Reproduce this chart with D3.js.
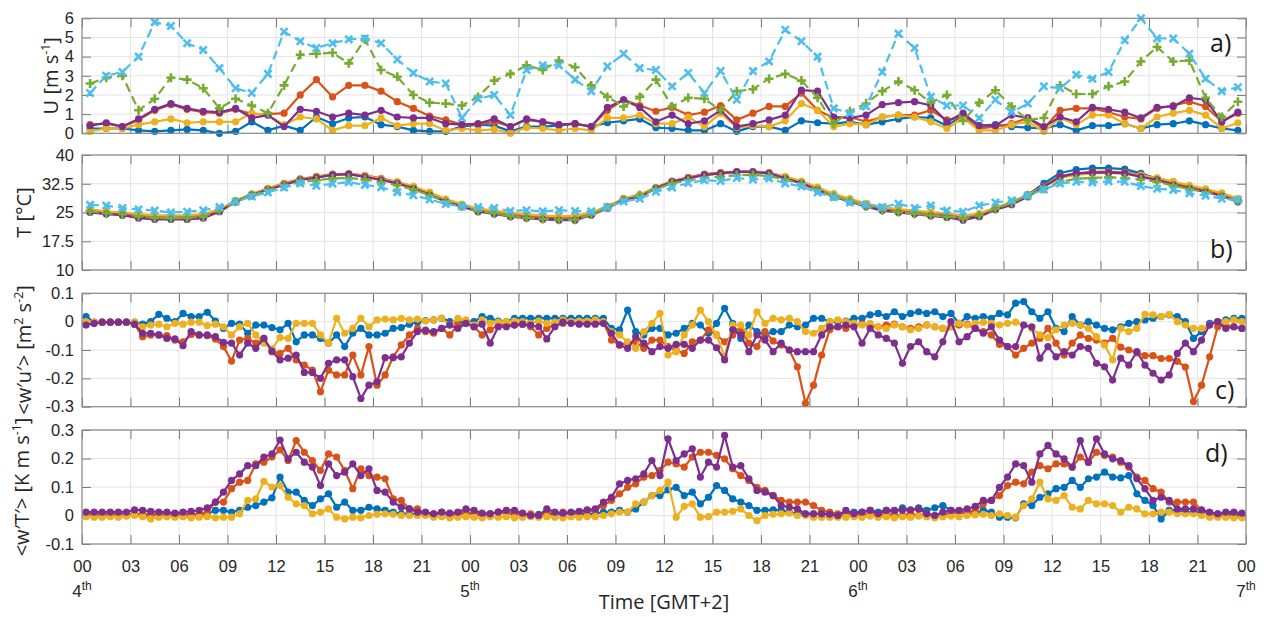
<!DOCTYPE html>
<html>
<head>
<meta charset="utf-8">
<script src="https://cdn.jsdelivr.net/npm/d3@7/dist/d3.min.js"></script>
<style>
  body { margin: 0; background: #ffffff; }
  svg { display: block; }
</style>
</head>
<body>
<svg id="chart" width="1267" height="617"></svg>
<script>
// ---------- time axis ----------
const hourTickValues = [0,3,6,9,12,15,18,21,24,27,30,33,36,39,42,45,48,51,54,57,60,63,66,69,72];
const hourTickLabels = ["00","03","06","09","12","15","18","21","00","03","06","09","12","15","18","21","00","03","06","09","12","15","18","21","00"];
const dayTickValues = [0,24,48,72];
const dayLabels = ["4","5","6","7"];

// ---------- a) wind speed U, hourly means ----------
const uBlue = [0.25,0.25,0.25,0.15,0.1,0.15,0.2,0.15,0.0,0.1,0.6,0.15,0.4,0.15,0.85,0.5,0.8,0.85,0.45,0.35,0.15,
  0.1,0.1,0.35,0.45,0.4,0.1,0.35,0.35,0.4,0.5,0.35,0.55,0.65,0.75,0.3,0.25,0.15,0.15,0.5,0.1,0.35,0.35,0.15,0.65,0.55,0.5,
  0.6,0.45,0.6,0.75,0.85,0.8,0.4,0.95,0.4,0.45,0.35,0.3,0.25,0.45,0.15,0.4,0.4,0.5,0.25,0.45,0.5,0.65,0.45,0.25,0.15];
const uOrange = [0.45,0.5,0.35,0.7,1.2,1.5,1.25,1.1,1.05,1.25,1.0,1.0,1.05,2.0,2.8,1.9,2.5,2.5,2.2,1.65,1.3,
  0.9,0.7,0.45,0.45,0.6,0.35,0.7,0.6,0.45,0.5,0.35,1.2,1.75,1.45,1.15,1.35,0.95,1.1,1.45,0.7,1.05,1.4,1.4,2.1,1.2,0.8,
  0.85,0.6,0.85,0.95,0.95,1.2,0.7,0.85,0.25,0.35,0.5,0.8,0.25,1.2,1.3,1.3,1.1,0.85,0.75,1.3,1.45,1.65,1.4,0.6,1.05];
const uYellow = [0.1,0.25,0.25,0.45,0.6,0.75,0.55,0.6,0.6,0.6,1.05,0.95,0.45,0.85,0.75,0.15,0.4,0.4,0.8,0.4,0.5,
  0.5,0.15,0.25,0.15,0.2,0.0,0.3,0.25,0.15,0.25,0.15,0.8,0.8,0.95,0.5,0.5,0.85,0.35,1.05,0.3,0.4,0.35,0.65,1.55,1.2,0.35,
  0.5,0.45,0.85,0.95,0.85,0.6,0.25,0.8,0.15,0.15,0.45,0.6,0.1,0.8,0.45,0.95,0.95,0.5,0.25,0.85,1.05,1.2,0.95,0.25,0.55];
const uPurple = [0.4,0.55,0.35,0.75,1.25,1.55,1.3,1.15,1.1,1.3,0.8,0.95,0.35,1.25,1.15,0.85,1.05,0.95,1.2,0.85,0.8,
  0.8,0.5,0.45,0.5,0.75,0.35,0.75,0.6,0.45,0.5,0.35,1.35,1.75,1.35,0.6,0.95,0.5,0.65,1.2,0.35,0.5,0.7,0.95,2.25,2.2,0.85,
  0.8,0.95,1.5,1.6,1.65,1.45,0.6,1.05,0.4,0.4,0.95,0.8,0.35,0.85,0.6,1.35,1.25,1.1,0.8,1.35,1.4,1.85,1.75,0.6,1.1];
const uGreen = [2.6,2.9,3.0,1.2,1.8,2.9,2.8,2.35,1.3,1.8,1.45,1.05,2.5,4.1,4.15,4.2,3.65,4.9,3.3,2.95,2.0,
  1.6,1.55,1.45,1.9,2.75,3.1,3.55,3.3,3.8,3.45,2.5,1.9,1.4,1.9,2.8,1.4,1.85,1.8,1.2,2.2,2.3,2.85,3.1,2.75,1.85,0.5,
  1.15,1.55,2.2,2.7,2.25,1.6,2.0,0.65,1.6,2.25,1.4,0.7,0.8,2.5,2.05,2.05,2.45,2.7,3.75,4.5,3.75,3.8,1.85,0.85,1.65];
const uLightBlue = [2.1,3.0,3.2,4.0,5.8,5.6,4.7,4.35,3.4,2.35,2.1,3.1,5.3,4.8,4.45,4.7,4.9,4.95,4.7,3.85,3.15,
  2.7,2.6,0.8,1.8,2.0,0.95,3.3,3.55,3.55,2.8,2.2,3.5,4.15,3.4,3.3,2.45,3.15,2.1,3.25,1.75,3.25,3.75,5.4,4.8,4.0,1.3,
  1.05,1.4,3.2,5.2,4.45,1.9,1.45,1.45,0.8,1.75,1.1,1.55,2.45,2.35,3.05,2.85,3.2,4.85,6.0,4.95,4.95,4.15,2.85,2.2,2.4];

// ---------- b) air temperature T, hourly means ----------
const tBlue = [25.2,24.8,24.5,23.8,23.5,23.4,23.4,23.7,25.4,27.9,29.7,31.1,32.4,33.6,34.2,34.8,35.0,34.4,33.6,32.7,31.4,29.8,28.0,26.7,
  25.4,24.8,24.1,23.7,23.4,23.2,23.2,24.5,26.3,28.4,29.3,31.4,33.1,34.0,34.8,35.2,35.6,35.6,35.2,34.0,32.8,31.1,29.3,28.0,
  26.7,25.7,25.2,24.8,24.3,23.9,23.3,24.1,25.9,27.4,29.6,32.6,35.3,36.2,36.6,36.6,36.3,35.2,33.8,32.4,31.4,30.5,29.4,27.9];
const tOrange = [25.5,25.0,24.7,24.2,24.0,23.8,23.9,24.2,25.6,28.0,29.8,31.3,32.6,33.8,34.4,35.0,35.1,34.7,33.9,33.0,31.7,30.1,28.3,27.0,
  25.8,25.2,24.6,24.2,23.9,23.7,23.8,24.9,26.5,28.6,29.6,31.5,33.2,34.2,35.0,35.4,35.7,35.7,35.4,34.3,33.0,31.4,29.6,28.3,
  27.1,26.1,25.6,25.2,24.8,24.5,23.9,24.5,26.1,27.6,29.6,31.9,34.5,35.2,35.6,35.7,35.5,34.8,34.0,32.9,31.8,30.9,29.8,28.4];
const tYellow = [25.8,25.3,25.0,24.6,24.3,24.2,24.3,24.6,25.8,28.1,29.8,31.3,32.5,33.7,34.3,34.8,35.0,34.6,33.8,33.0,31.8,30.3,28.5,27.2,
  26.0,25.5,24.9,24.5,24.2,24.0,24.1,25.0,26.6,28.6,29.7,31.4,33.0,34.0,34.8,35.2,35.5,35.6,35.3,34.4,33.2,31.6,29.9,28.6,
  27.4,26.4,25.9,25.5,25.1,24.8,24.2,24.7,26.3,27.8,29.6,31.7,34.0,34.8,35.2,35.3,35.2,34.7,34.0,33.1,32.1,31.2,30.1,28.7];
const tPurple = [25.0,24.6,24.3,23.5,23.2,23.2,23.2,23.5,25.2,27.8,29.6,31.0,32.2,33.5,34.1,34.8,35.0,34.3,33.5,32.6,31.3,29.6,27.8,26.5,
  25.2,24.6,23.9,23.5,23.2,23.0,23.0,24.3,26.1,28.3,29.1,31.3,33.0,33.9,34.8,35.2,35.6,35.6,35.2,33.9,32.6,30.9,29.1,27.8,
  26.5,25.5,25.0,24.6,24.1,23.7,23.0,23.9,25.7,27.0,29.1,31.7,34.3,35.2,35.4,35.4,35.2,34.3,33.5,32.2,31.3,30.4,29.3,27.8];
const tGreen = [25.3,24.8,24.6,24.0,23.6,23.5,23.6,23.9,25.5,27.8,29.5,30.8,31.9,33.0,33.4,33.9,34.0,33.6,32.9,32.1,31.0,29.5,27.9,26.6,
  25.4,24.8,24.1,23.6,23.3,23.1,23.1,24.5,26.3,28.4,29.5,31.1,32.6,33.4,34.0,34.4,34.7,34.8,34.5,33.6,32.4,30.9,29.3,28.0,
  26.6,25.6,25.1,24.7,24.3,23.9,23.4,24.3,26.0,27.5,29.5,31.2,33.0,33.8,34.0,34.2,34.0,33.6,33.0,32.0,31.1,30.3,29.3,27.9];
const tLightBlue = [27.0,26.8,26.2,25.8,25.5,25.0,25.2,25.6,26.4,27.8,29.2,30.2,31.5,32.6,32.0,32.5,32.9,32.2,31.6,30.3,29.5,28.4,27.2,26.6,
  26.4,26.2,25.4,25.6,25.3,25.6,25.4,25.3,26.4,27.9,28.6,30.4,31.5,32.7,33.4,33.2,34.0,33.6,33.9,32.6,31.8,30.2,29.0,27.6,
  27.0,26.4,27.3,26.2,26.8,25.5,25.2,26.8,27.6,28.2,29.4,31.0,32.6,33.0,32.8,33.1,33.0,31.9,31.2,30.9,30.0,29.4,28.6,28.3];

// ---------- c) momentum flux <w'u'>, 30-min ----------
const wuBlue = [0.018,-0.002,-0.002,-0.002,-0.002,-0.002,-0.002,
  -0.009,0.0,0.026,0.012,0.0,0.029,0.018,0.018,0.033,0.002,-0.024,-0.006,-0.009,-0.041,-0.012,-0.012,-0.021,-0.029,-0.006,-0.071,-0.047,-0.047,-0.059,-0.076,-0.047,-0.088,-0.041,-0.024,-0.047,-0.047,-0.041,-0.024,-0.021,-0.009,-0.002,0.004,
  0.006,0.012,0.0,-0.002,0.0,0.0,0.018,0.012,0.002,0.0,0.012,0.012,0.012,0.012,0.012,0.012,0.012,0.012,0.012,0.012,0.012,0.012,
  -0.024,-0.029,0.041,-0.035,-0.047,-0.024,-0.024,-0.047,-0.041,-0.024,-0.006,-0.012,-0.041,-0.006,0.047,-0.006,-0.059,-0.012,-0.035,-0.047,-0.035,-0.035,-0.012,-0.018,-0.012,0.012,0.012,0.0,0.0,0.002,
  0.012,0.012,0.024,0.029,0.018,0.035,0.018,0.029,0.035,0.029,0.035,0.018,0.029,-0.006,0.018,0.012,0.018,0.012,0.029,0.024,0.065,0.071,0.035,0.012,0.035,-0.024,-0.035,0.018,-0.012,0.0,-0.012,-0.024,-0.029,-0.018,-0.006,0.0,0.006,0.012,0.018,0.024,0.018,0.0,-0.059,-0.035,-0.006,0.0,0.006,0.012,0.012];
const wuOrange = [-0.006,-0.006,-0.002,-0.002,-0.002,-0.002,-0.009,
  -0.053,-0.047,-0.047,-0.049,-0.065,-0.071,-0.045,-0.047,-0.049,-0.061,-0.088,-0.139,-0.065,-0.059,-0.076,-0.059,-0.106,-0.112,-0.094,-0.135,-0.153,-0.171,-0.247,-0.171,-0.188,-0.188,-0.118,-0.188,-0.088,-0.224,-0.188,-0.124,-0.082,-0.047,-0.024,-0.035,
  -0.041,-0.024,-0.047,-0.012,-0.006,-0.018,-0.047,-0.029,-0.012,-0.009,-0.012,-0.009,-0.018,-0.047,-0.024,-0.009,-0.006,-0.002,-0.006,-0.002,-0.006,-0.002,
  -0.065,-0.082,-0.076,-0.071,-0.094,-0.065,-0.065,-0.088,-0.1,-0.112,-0.071,-0.065,-0.029,-0.047,-0.071,-0.047,-0.029,-0.076,-0.088,-0.035,-0.068,-0.082,-0.1,-0.159,-0.288,-0.224,-0.118,-0.029,-0.018,-0.024,
  -0.012,-0.009,-0.014,-0.018,-0.012,-0.009,-0.018,-0.024,-0.018,-0.012,-0.018,-0.024,-0.018,-0.012,-0.009,-0.024,-0.035,-0.047,-0.08,-0.088,-0.118,-0.094,-0.076,-0.059,-0.024,-0.076,-0.118,-0.076,-0.047,-0.059,-0.065,-0.076,-0.059,-0.09,-0.1,-0.11,-0.12,-0.12,-0.13,-0.13,-0.14,-0.16,-0.282,-0.224,-0.124,-0.018,-0.012,-0.018,-0.024];
const wuYellow = [0.0,-0.002,-0.002,-0.002,-0.002,-0.002,-0.002,
  -0.018,-0.012,-0.009,-0.018,-0.006,-0.009,-0.002,-0.002,-0.014,-0.009,-0.018,-0.047,-0.018,-0.006,
  -0.047,-0.076,-0.096,-0.056,-0.059,-0.006,-0.006,-0.006,-0.047,-0.076,0.012,-0.041,-0.024,0.012,-0.018,0.006,0.009,0.006,0.012,0.006,0.009,0.002,
  0.006,0.012,-0.012,0.012,0.006,-0.012,0.006,-0.006,-0.002,0.0,0.002,0.0,-0.006,0.002,-0.006,-0.002,0.006,0.0,0.002,0.002,0.006,0.0,
  -0.035,-0.047,-0.071,-0.094,-0.035,-0.006,0.029,-0.118,-0.106,-0.047,-0.012,0.041,0.0,-0.047,-0.124,-0.012,-0.012,-0.047,0.035,-0.006,0.012,0.006,0.012,0.0,-0.035,-0.041,-0.024,0.0,0.006,0.0,
  -0.006,-0.012,-0.006,-0.018,-0.024,-0.012,-0.018,-0.029,-0.024,-0.012,-0.018,-0.024,-0.018,-0.006,-0.012,-0.006,-0.002,-0.006,-0.012,-0.006,-0.002,-0.012,-0.024,-0.047,-0.056,-0.029,-0.012,-0.006,-0.012,-0.024,-0.053,-0.082,-0.135,-0.024,-0.035,-0.024,0.026,0.024,0.018,0.026,0.0,-0.012,-0.024,-0.024,-0.012,0.0,0.0,0.006,0.0];
const wuPurple = [-0.012,-0.006,-0.002,-0.002,-0.002,-0.002,-0.009,
  -0.041,-0.041,-0.047,-0.059,-0.061,-0.085,-0.035,-0.047,-0.047,-0.053,-0.073,-0.076,-0.118,-0.076,-0.094,-0.059,-0.104,-0.135,-0.129,-0.118,-0.179,-0.179,-0.2,-0.147,-0.135,-0.135,-0.194,-0.271,-0.224,-0.212,-0.127,-0.127,-0.124,-0.076,-0.035,-0.03,
  -0.035,-0.024,-0.012,-0.024,-0.006,-0.018,-0.009,-0.076,-0.018,-0.018,-0.012,-0.009,-0.012,-0.018,-0.061,-0.018,-0.002,-0.006,-0.009,-0.009,-0.009,-0.006,
  -0.041,-0.082,-0.094,-0.053,-0.076,-0.106,-0.088,-0.094,-0.08,-0.08,-0.094,-0.065,-0.065,-0.092,-0.135,-0.029,-0.047,-0.106,-0.047,-0.065,-0.106,-0.076,-0.1,-0.106,-0.106,-0.106,-0.047,-0.018,-0.018,-0.012,
  -0.018,-0.076,-0.024,-0.047,-0.059,-0.076,-0.147,-0.088,-0.071,-0.106,-0.124,-0.071,0.0,-0.071,-0.053,-0.024,-0.041,-0.018,-0.065,-0.088,-0.088,-0.012,-0.018,-0.129,-0.088,-0.124,-0.106,-0.118,-0.088,-0.094,-0.147,-0.159,-0.206,-0.129,-0.153,-0.106,-0.153,-0.182,-0.206,-0.188,-0.112,-0.076,-0.106,-0.065,-0.012,0.0,-0.024,-0.018,-0.024];

// ---------- d) sensible heat flux <w'T'>, 30-min ----------
const wtBlue = [0.0,0.002,0.0,0.004,0.002,0.0,0.004,0.002,0.0,0.004,0.0,0.002,0.0,0.004,0.002,0.006,
  0.018,0.018,0.012,0.018,0.029,0.035,0.047,0.062,0.135,0.082,0.082,0.053,0.035,0.058,0.076,0.029,0.047,0.018,0.018,0.029,0.023,0.018,0.012,0.006,0.006,0.004,0.004,
  0.004,0.006,0.002,0.006,0.008,0.006,0.004,0.006,0.012,0.008,0.006,0.004,0.002,0.004,0.006,0.004,0.006,0.008,0.006,0.004,0.006,
  0.012,0.012,0.018,0.012,0.023,0.047,0.07,0.07,0.09,0.099,0.07,0.082,0.041,0.064,0.105,0.088,0.058,0.047,0.035,0.018,0.018,0.02,0.018,0.012,0.006,0.006,0.006,0.006,0.004,0.0,0.0,
  0.012,0.012,0.018,0.012,0.018,0.012,0.027,0.018,0.027,0.018,0.027,0.035,0.018,0.012,0.006,0.006,0.018,0.012,-0.006,-0.006,-0.008,0.041,0.035,0.064,0.076,0.094,0.099,0.123,0.099,0.129,0.135,0.152,0.135,0.132,0.14,0.076,0.053,0.035,-0.012,0.018,0.018,0.012,0.012,0.012,0.008,0.006,0.006,0.004,0.0];
const wtOrange = [0.004,0.004,0.004,0.004,0.004,0.004,0.004,0.004,0.004,0.004,0.004,0.004,0.004,0.004,0.004,
  0.012,0.047,0.047,0.094,0.117,0.123,0.181,0.187,0.205,0.23,0.193,0.263,0.222,0.193,0.158,0.216,0.205,0.158,0.094,0.164,0.14,0.135,0.129,0.058,0.053,0.023,0.023,0.006,
  0.006,0.012,0.0,0.006,0.012,0.006,0.0,0.006,0.012,0.006,0.012,0.0,0.006,0.0,0.012,0.006,0.012,0.006,0.012,0.012,0.018,
  0.035,0.053,0.076,0.099,0.111,0.135,0.14,0.158,0.187,0.181,0.17,0.205,0.222,0.222,0.211,0.199,0.164,0.14,0.123,0.099,0.088,0.07,0.053,0.047,0.047,0.047,0.035,0.018,0.012,0.006,0.006,
  0.006,0.0,0.006,0.0,0.006,0.0,0.0,0.006,0.0,0.006,0.0,0.006,0.006,0.012,0.012,0.018,0.041,0.053,0.07,0.105,0.117,0.111,0.152,0.175,0.164,0.181,0.181,0.17,0.205,0.187,0.222,0.211,0.205,0.187,0.17,0.135,0.123,0.094,0.082,0.047,0.047,0.047,0.047,0.018,0.006,0.0,0.0,-0.004,-0.006];
const wtYellow = [-0.004,-0.006,-0.006,-0.004,-0.006,-0.002,0.0,-0.004,-0.012,-0.006,-0.004,-0.006,-0.004,-0.008,-0.006,-0.004,-0.008,-0.006,-0.006,
  0.006,0.053,0.058,0.12,0.1,0.105,0.064,0.041,0.035,0.006,0.012,0.023,-0.006,-0.012,-0.006,-0.008,0.0,0.004,0.006,0.004,0.0,0.0,0.0,0.0,
  -0.006,-0.004,-0.008,-0.006,-0.004,-0.006,-0.008,-0.004,-0.006,-0.004,-0.008,-0.006,-0.004,-0.006,-0.004,-0.006,-0.008,-0.004,-0.006,-0.004,-0.004,
  0.0,0.006,0.012,0.012,0.041,0.047,0.07,0.088,0.117,-0.006,0.032,0.041,-0.006,-0.004,0.012,0.012,0.015,0.023,0.0,-0.018,0.0,0.004,0.006,0.008,0.0,0.0,-0.006,-0.006,-0.006,-0.006,-0.006,
  -0.004,-0.006,-0.002,-0.006,-0.004,-0.008,-0.004,-0.006,-0.002,-0.004,-0.008,-0.004,-0.002,-0.004,0.0,0.002,0.004,0.0,0.006,0.0,-0.006,0.035,0.058,0.117,0.058,0.053,0.07,0.029,0.023,0.053,0.041,0.041,0.035,0.012,0.029,0.023,0.006,0.006,0.012,0.012,0.006,0.006,0.006,0.0,-0.006,-0.006,-0.006,-0.008,-0.008];
const wtPurple = [0.012,0.012,0.012,0.012,0.012,0.012,0.02,0.018,0.015,0.012,0.012,0.008,0.012,0.015,0.018,0.027,
  0.047,0.082,0.123,0.146,0.175,0.175,0.205,0.216,0.265,0.199,0.222,0.187,0.17,0.105,0.181,0.14,0.152,0.181,0.14,0.164,0.088,0.082,0.047,0.029,0.023,0.012,0.012,
  0.006,0.012,0.008,0.012,0.023,0.018,0.008,0.006,0.012,0.018,0.018,0.008,0.0,0.0,0.023,0.012,0.008,0.012,0.015,0.02,0.023,
  0.047,0.064,0.111,0.123,0.129,0.146,0.193,0.14,0.269,0.193,0.216,0.234,0.135,0.187,0.17,0.281,0.17,0.175,0.129,0.088,0.082,0.07,0.035,0.029,0.023,0.006,0.006,0.006,0.004,0.0,0.018,
  0.006,0.012,0.018,0.006,0.018,0.018,0.018,0.02,0.023,0.006,0.0,0.012,0.018,0.018,0.023,0.032,0.053,0.053,0.099,0.135,0.181,0.175,0.117,0.216,0.246,0.216,0.199,0.17,0.263,0.187,0.269,0.216,0.199,0.193,0.175,0.129,0.094,0.053,0.064,0.053,0.023,0.023,0.023,0.02,0.012,0.006,0.012,0.012,0.008];

// ---------- y axes ----------
const uTicks = [0,1,2,3,4,5,6];
const uTickLabels = ["0","1","2","3","4","5","6"];
const tTicks = [10,17.5,25,32.5,40];
const tTickLabels = ["10","17.5","25","32.5","40"];
const wuTicks = [-0.3,-0.2,-0.1,0,0.1];
const wuTickLabels = ["-0.3","-0.2","-0.1","0","0.1"];
const wtTicks = [-0.1,0,0.1,0.2,0.3];
const wtTickLabels = ["-0.1","0","0.1","0.2","0.3"];

// ---------- styling ----------
const COLORS = {
  blue: "#0072BD", orange: "#D95319", yellow: "#EDB120",
  purple: "#7E2F8E", green: "#77AC30", lightblue: "#4DBEEE"
};
const TICK_FONT = "'Liberation Sans', Arial, Helvetica, sans-serif";
const LABEL_FONT = "'Open Sans', 'Noto Sans', sans-serif";

const svg = d3.select("#chart");
const x = d3.scaleLinear().domain([0, 72]).range([82, 1246]);

function hourly(arr) { return arr.map((v, i) => ({ t: i + 0.5, v })); }
function halfHourly(arr) { return arr.map((v, i) => ({ t: 0.25 + 0.5 * i, v })); }

const panels = [
  {
    top: 18.3, bottom: 133.3, domain: [0, 6], ticks: uTicks, tickLabels: uTickLabels,
    label: [["U [m s", 0], ["-1", 1], ["]", 0]], labelX: 58, letter: "a)", letterX: 1210, letterY: 52,
    series: [
      { data: hourly(uBlue), color: COLORS.blue, marker: "circle" },
      { data: hourly(uOrange), color: COLORS.orange, marker: "circle" },
      { data: hourly(uYellow), color: COLORS.yellow, marker: "circle" },
      { data: hourly(uPurple), color: COLORS.purple, marker: "circle" },
      { data: hourly(uGreen), color: COLORS.green, marker: "plus", dashed: true },
      { data: hourly(uLightBlue), color: COLORS.lightblue, marker: "cross", dashed: true }
    ]
  },
  {
    top: 155, bottom: 270, domain: [10, 40], ticks: tTicks, tickLabels: tTickLabels,
    label: [["T [°C]", 0]], labelX: 31, letter: "b)", letterX: 1210, letterY: 258,
    series: [
      { data: hourly(tBlue), color: COLORS.blue, marker: "circle" },
      { data: hourly(tOrange), color: COLORS.orange, marker: "circle" },
      { data: hourly(tYellow), color: COLORS.yellow, marker: "circle" },
      { data: hourly(tPurple), color: COLORS.purple, marker: "circle" },
      { data: hourly(tGreen), color: COLORS.green, marker: "plus", dashed: true },
      { data: hourly(tLightBlue), color: COLORS.lightblue, marker: "cross", dashed: true }
    ]
  },
  {
    top: 293.3, bottom: 406.7, domain: [-0.3, 0.1], ticks: wuTicks, tickLabels: wuTickLabels,
    label: [["<w′u′> [m", 0], ["2", 1], [" s", 0], ["-2", 1], ["]", 0]],
    labelX: 31, letter: "c)", letterX: 1215, letterY: 399,
    series: [
      { data: halfHourly(wuBlue), color: COLORS.blue, marker: "circle" },
      { data: halfHourly(wuOrange), color: COLORS.orange, marker: "circle" },
      { data: halfHourly(wuYellow), color: COLORS.yellow, marker: "circle" },
      { data: halfHourly(wuPurple), color: COLORS.purple, marker: "circle" }
    ]
  },
  {
    top: 430, bottom: 544, domain: [-0.1, 0.3], ticks: wtTicks, tickLabels: wtTickLabels,
    label: [["<w′T′> [K m s", 0], ["-1", 1], ["]", 0]],
    labelX: 29, letter: "d)", letterX: 1205, letterY: 462, xLabels: true,
    series: [
      { data: halfHourly(wtBlue), color: COLORS.blue, marker: "circle" },
      { data: halfHourly(wtOrange), color: COLORS.orange, marker: "circle" },
      { data: halfHourly(wtYellow), color: COLORS.yellow, marker: "circle" },
      { data: halfHourly(wtPurple), color: COLORS.purple, marker: "circle" }
    ]
  }
];

// writes a label made of normal and superscript runs
function richText(textSel, parts, size) {
  let raised = false;
  parts.forEach(([str, sup]) => {
    const ts = textSel.append("tspan").text(str)
      .attr("font-size", sup ? size * 0.62 : size);
    if (sup && !raised) { ts.attr("dy", -size * 0.42); raised = true; }
    else if (!sup && raised) { ts.attr("dy", size * 0.42); raised = false; }
  });
}

const TICK_LEN = 9;

panels.forEach(p => {
  const y = d3.scaleLinear().domain(p.domain).range([p.bottom, p.top]);
  const g = svg.append("g");

  // grid
  g.append("g").selectAll("line").data(hourTickValues).join("line")
    .attr("x1", d => x(d)).attr("x2", d => x(d))
    .attr("y1", p.top).attr("y2", p.bottom)
    .attr("stroke", "#e4e4e4").attr("stroke-width", 1);
  g.append("g").selectAll("line").data(p.ticks).join("line")
    .attr("x1", x(0)).attr("x2", x(72))
    .attr("y1", d => y(d)).attr("y2", d => y(d))
    .attr("stroke", "#e4e4e4").attr("stroke-width", 1);

  // inward tick marks on all four sides
  const axisStyle = sel => {
    sel.select(".domain").remove();
    sel.selectAll(".tick line").attr("stroke", "#7a7a7a").attr("stroke-width", 1);
    sel.selectAll(".tick text").attr("fill", "#262626")
      .attr("font-family", TICK_FONT).attr("font-size", 16.5);
  };
  g.append("g").attr("transform", `translate(${x(0)},0)`)
    .call(d3.axisLeft(y).tickValues(p.ticks).tickFormat((d, i) => p.tickLabels[i])
      .tickSizeInner(-TICK_LEN).tickSizeOuter(0).tickPadding(8))
    .call(axisStyle);
  g.append("g").attr("transform", `translate(${x(72)},0)`)
    .call(d3.axisRight(y).tickValues(p.ticks).tickFormat("")
      .tickSizeInner(-TICK_LEN).tickSizeOuter(0))
    .call(axisStyle);
  g.append("g").attr("transform", `translate(0,${p.top})`)
    .call(d3.axisTop(x).tickValues(hourTickValues).tickFormat("")
      .tickSizeInner(-TICK_LEN).tickSizeOuter(0))
    .call(axisStyle);
  g.append("g").attr("transform", `translate(0,${p.bottom})`)
    .call(d3.axisBottom(x).tickValues(hourTickValues)
      .tickFormat((d, i) => p.xLabels ? hourTickLabels[i] : "")
      .tickSizeInner(-TICK_LEN).tickSizeOuter(0).tickPadding(16))
    .call(axisStyle);

  // series
  const line = d3.line().x(d => x(d.t)).y(d => y(d.v));
  p.series.forEach(s => {
    const sg = g.append("g");
    sg.append("path").datum(s.data)
      .attr("d", line).attr("fill", "none")
      .attr("stroke", s.color).attr("stroke-width", 2.2)
      .attr("stroke-linejoin", "round")
      .attr("stroke-dasharray", s.dashed ? "9,5" : null);
    if (s.marker === "circle") {
      sg.selectAll("circle").data(s.data).join("circle")
        .attr("cx", d => x(d.t)).attr("cy", d => y(d.v)).attr("r", 3.6)
        .attr("fill", s.color);
    } else {
      const shape = s.marker === "plus"
        ? "M-4.5,0H4.5M0,-4.5V4.5"
        : "M-3.6,-3.6L3.6,3.6M-3.6,3.6L3.6,-3.6";
      sg.selectAll("path.mk").data(s.data).join("path").attr("class", "mk")
        .attr("transform", d => `translate(${x(d.t)},${y(d.v)})`)
        .attr("d", shape).attr("fill", "none")
        .attr("stroke", s.color).attr("stroke-width", 2.6);
    }
  });

  // frame
  g.append("rect")
    .attr("x", x(0)).attr("y", p.top)
    .attr("width", x(72) - x(0)).attr("height", p.bottom - p.top)
    .attr("fill", "none").attr("stroke", "#8a8a8a").attr("stroke-width", 1.2);

  // y label
  const yl = g.append("text")
    .attr("transform", `translate(${p.labelX},${(p.top + p.bottom) / 2}) rotate(-90)`)
    .attr("text-anchor", "middle").attr("fill", "#262626")
    .attr("font-family", LABEL_FONT);
  richText(yl, p.label, 20);

  // panel letter
  g.append("text").attr("x", p.letterX).attr("y", p.letterY)
    .attr("font-family", LABEL_FONT).attr("font-size", 25).attr("fill", "#1a1a1a")
    .text(p.letter);
});

// day labels under the midnight ticks
const dayG = svg.append("g").attr("font-family", TICK_FONT).attr("fill", "#262626");
dayTickValues.forEach((h, i) => {
  const t = dayG.append("text").attr("x", x(h)).attr("y", 597).attr("text-anchor", "middle");
  t.append("tspan").attr("font-size", 17).text(dayLabels[i]);
  t.append("tspan").attr("font-size", 12).attr("dy", -7).text("th");
});

// x axis title
svg.append("text").attr("x", x(36)).attr("y", 609)
  .attr("text-anchor", "middle").attr("font-family", LABEL_FONT)
  .attr("font-size", 20).attr("fill", "#262626")
  .text("Time [GMT+2]");
</script>
</body>
</html>
